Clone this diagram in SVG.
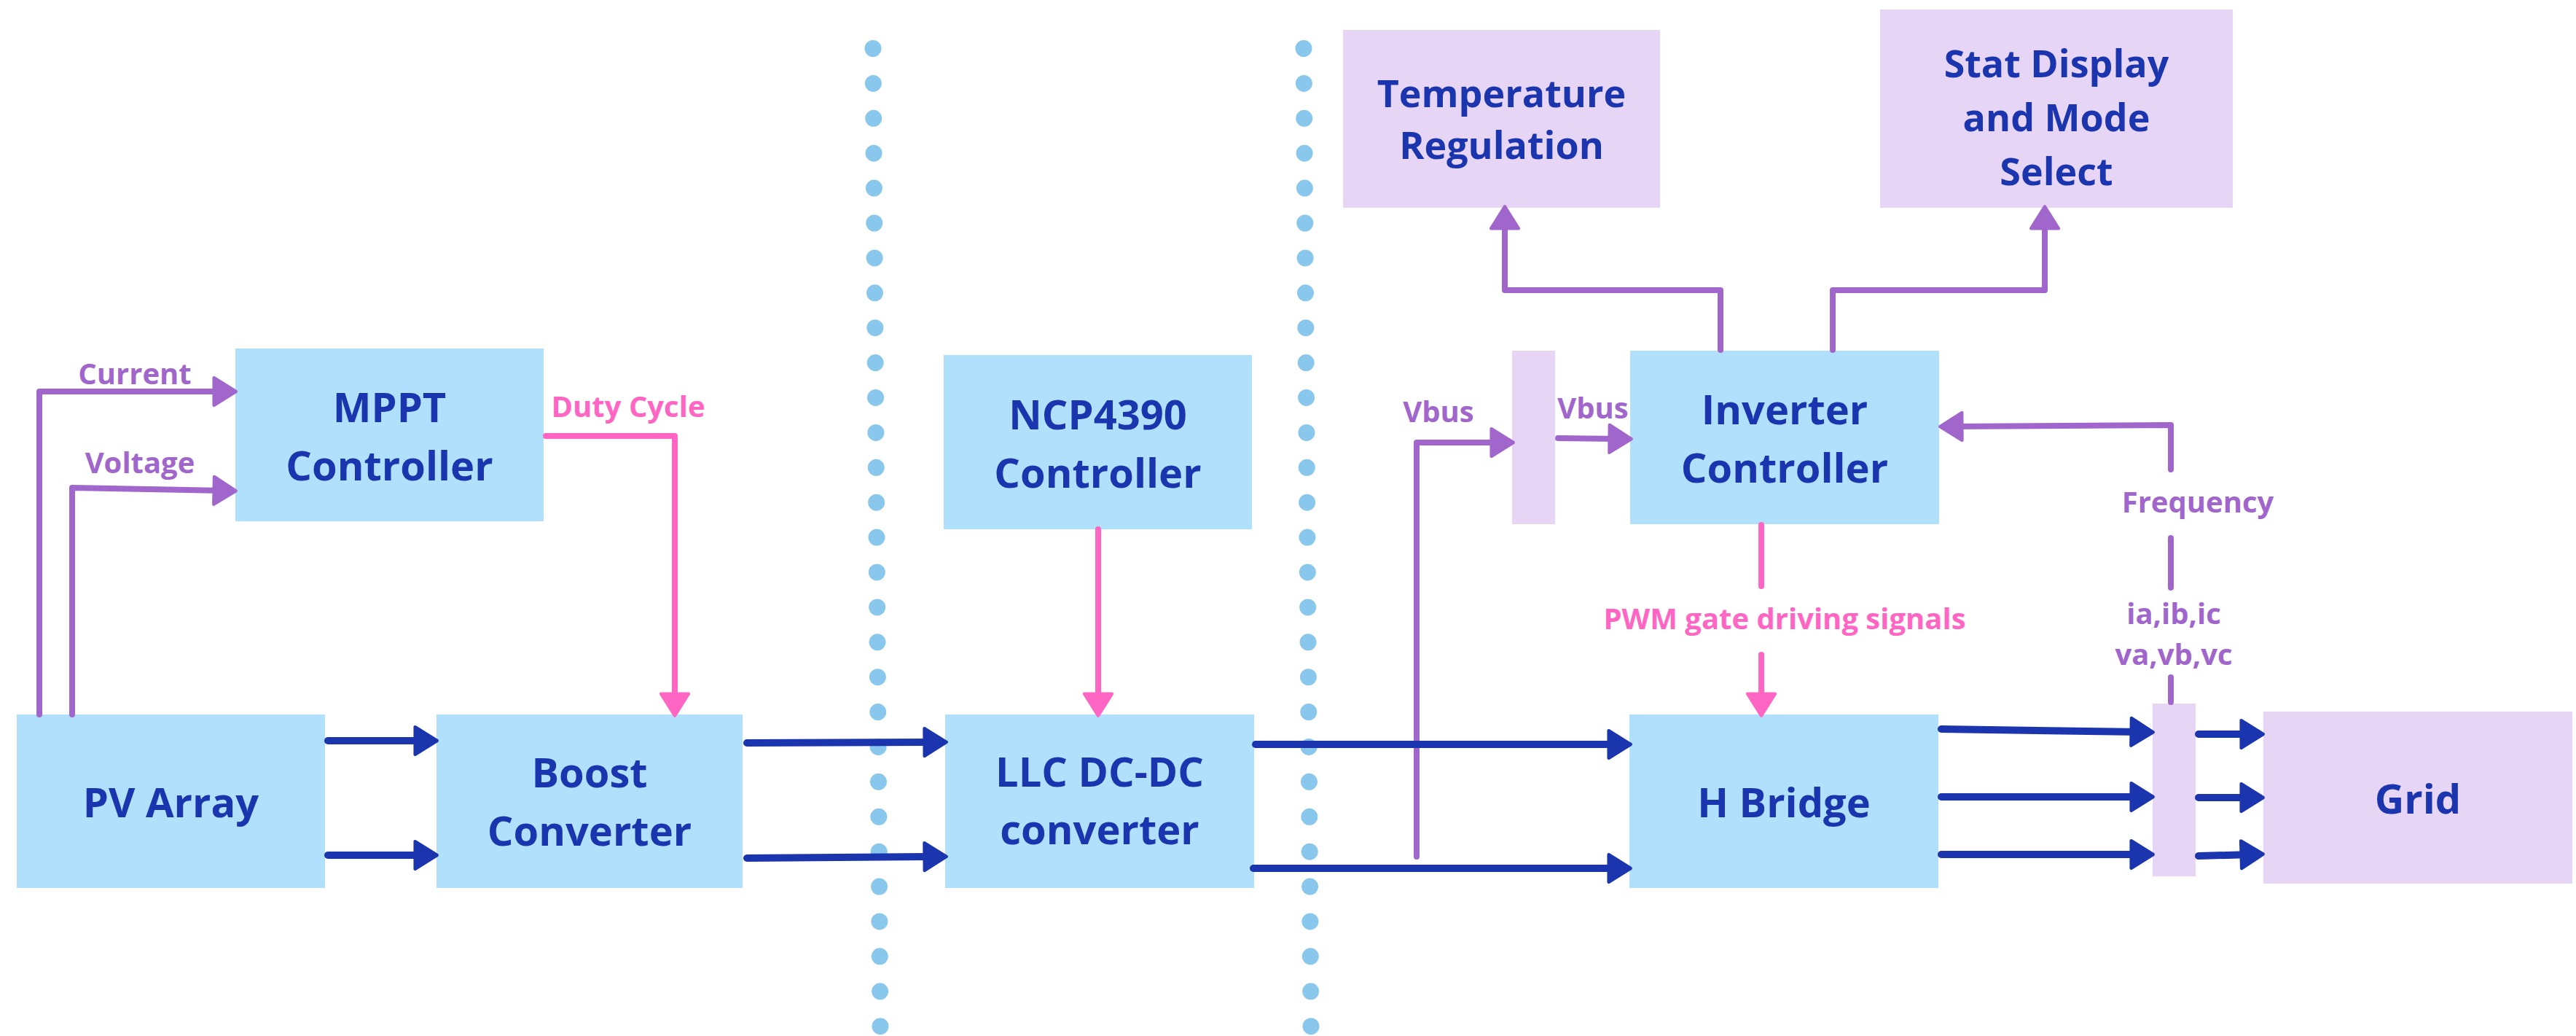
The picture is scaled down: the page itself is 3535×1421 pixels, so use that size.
<svg xmlns="http://www.w3.org/2000/svg" width="3535" height="1421" viewBox="0 0 3535 1421">
<style>
.b{fill:#B0E0FB}
.l{fill:#E7D5F6}
.t{font-family:"Open Sans","DejaVu Sans",sans-serif;font-weight:700;font-size:56px;fill:#1B35AE;text-anchor:middle}
.tt{font-size:52px}
.s{font-family:"Open Sans","DejaVu Sans",sans-serif;font-weight:700;font-size:40px;text-anchor:middle}
.sp{fill:#A066CB}
.sk{fill:#FF66C4}
.cb{fill:none;stroke:#1B35AE;stroke-width:10;stroke-linecap:round;stroke-linejoin:round}
.cp{fill:none;stroke:#A066CB;stroke-width:8;stroke-linecap:round;stroke-linejoin:round}
.ck{fill:none;stroke:#FF66C4;stroke-width:8;stroke-linecap:round;stroke-linejoin:round}
.dot{fill:none;stroke:#89C8EC;stroke-width:23;stroke-linecap:round;stroke-dasharray:0 47.9}
</style>
<defs>
<marker id="hb" markerUnits="userSpaceOnUse" markerWidth="40" markerHeight="50" viewBox="-4 -22 36 44" refX="12" refY="0" orient="auto"><path d="M0,-17 L27,0 L0,17 Z" fill="#1B35AE" stroke="#1B35AE" stroke-width="4" stroke-linejoin="round"/></marker>
<marker id="hp" markerUnits="userSpaceOnUse" markerWidth="40" markerHeight="50" viewBox="-4 -22 36 44" refX="12" refY="0" orient="auto"><path d="M0,-17 L27,0 L0,17 Z" fill="#A066CB" stroke="#A066CB" stroke-width="4" stroke-linejoin="round"/></marker>
<marker id="hk" markerUnits="userSpaceOnUse" markerWidth="40" markerHeight="50" viewBox="-4 -22 36 44" refX="12" refY="0" orient="auto"><path d="M0,-17 L27,0 L0,17 Z" fill="#FF66C4" stroke="#FF66C4" stroke-width="4" stroke-linejoin="round"/></marker>
</defs>
<rect width="3535" height="1421" fill="#FFFFFF"/>
<g id="dividers">
<line class="dot" x1="1198" y1="66.5" x2="1208" y2="1410"/>
<line class="dot" x1="1789" y1="66.5" x2="1799" y2="1410"/>
</g>
<g id="pv-array"><rect class="b" x="23" y="980" width="423" height="238"/><text class="t" x="234.5" y="1121">PV Array</text></g>
<g id="mppt"><rect class="b" x="323" y="478" width="423" height="237"/><text class="t" x="534.5" y="579">MPPT</text><text class="t" x="534.5" y="659">Controller</text></g>
<g id="boost"><rect class="b" x="599" y="980" width="420" height="238"/><text class="t" x="809" y="1080">Boost</text><text class="t" x="809" y="1160">Converter</text></g>
<g id="ncp"><rect class="b" x="1295" y="487" width="423" height="239"/><text class="t" x="1506.5" y="589">NCP4390</text><text class="t" x="1506.5" y="669">Controller</text></g>
<g id="llc"><rect class="b" x="1297" y="980" width="424" height="238"/><text class="t" x="1509" y="1079">LLC DC-DC</text><text class="t" x="1509" y="1158">converter</text></g>
<g id="vbus-node"><rect class="l" x="2075" y="481" width="59" height="238"/></g>
<g id="inverter"><rect class="b" x="2237" y="481" width="424" height="238"/><text class="t" x="2449" y="582">Inverter</text><text class="t" x="2449" y="662">Controller</text></g>
<g id="hbridge"><rect class="b" x="2236" y="980" width="424" height="238"/><text class="t" x="2448" y="1121">H Bridge</text></g>
<g id="sense-node"><rect class="l" x="2954" y="965" width="59" height="237"/></g>
<g id="grid"><rect class="l" x="3106" y="976" width="424" height="236"/><text class="t" x="3318" y="1116">Grid</text></g>
<g id="temperature"><rect class="l" x="1843" y="41" width="435" height="244"/><text class="t tt" x="2060.5" y="147">Temperature</text><text class="t tt" x="2060.5" y="218">Regulation</text></g>
<g id="stat"><rect class="l" x="2580" y="13" width="484" height="272"/><text class="t tt" x="2822" y="106">Stat Display</text><text class="t tt" x="2822" y="180">and Mode</text><text class="t tt" x="2822" y="254">Select</text></g>
<g id="connectors">
<path class="cp" d="M54,980 V537 H307" marker-end="url(#hp)"/>
<path class="cp" d="M99,980 V669 L307,673" marker-end="url(#hp)"/>
<path class="ck" d="M749,598 H926 V965" marker-end="url(#hk)"/>
<path class="ck" d="M1507,726 V965" marker-end="url(#hk)"/>
<path class="cp" d="M1944,1175 V607 H2060" marker-end="url(#hp)"/>
<path class="cp" d="M2138,601 L2222,602" marker-end="url(#hp)"/>
<path class="cp" d="M2361,480 V398 H2065 V300" marker-end="url(#hp)"/>
<path class="cp" d="M2515,480 V398 H2806 V300" marker-end="url(#hp)"/>
<path class="cp" d="M2979,644 V583 L2679,585" marker-end="url(#hp)"/>
<path class="cp" d="M2979,738 V806"/>
<path class="cp" d="M2979,929 V963"/>
<path class="ck" d="M2417,720 V804"/>
<path class="ck" d="M2417,898 V965" marker-end="url(#hk)"/>
<path class="cb" d="M450,1016 H583" marker-end="url(#hb)"/>
<path class="cb" d="M450,1173 H583" marker-end="url(#hb)"/>
<path class="cb" d="M1025,1019 L1282,1018" marker-end="url(#hb)"/>
<path class="cb" d="M1025,1177 L1282,1175" marker-end="url(#hb)"/>
<path class="cb" d="M1723,1021 H2221" marker-end="url(#hb)"/>
<path class="cb" d="M1720,1191 H2221" marker-end="url(#hb)"/>
<path class="cb" d="M2664,1000 L2938,1004" marker-end="url(#hb)"/>
<path class="cb" d="M2664,1093 H2938" marker-end="url(#hb)"/>
<path class="cb" d="M2664,1172 H2938" marker-end="url(#hb)"/>
<path class="cb" d="M3017,1007 H3089" marker-end="url(#hb)"/>
<path class="cb" d="M3017,1094 H3089" marker-end="url(#hb)"/>
<path class="cb" d="M3017,1174 L3089,1172" marker-end="url(#hb)"/>
</g>
<g id="labels">
<text class="s sp" x="185" y="527">Current</text>
<text class="s sp" x="192" y="649">Voltage</text>
<text class="s sk" x="862" y="572">Duty Cycle</text>
<text class="s sp" x="1974" y="579">Vbus</text>
<text class="s sp" x="2186" y="574">Vbus</text>
<text class="s sk" x="2449" y="863">PWM gate driving signals</text>
<text class="s sp" x="3016" y="703">Frequency</text>
<text class="s sp" x="2983" y="856">ia,ib,ic</text>
<text class="s sp" x="2983" y="912">va,vb,vc</text>
</g>
</svg>
